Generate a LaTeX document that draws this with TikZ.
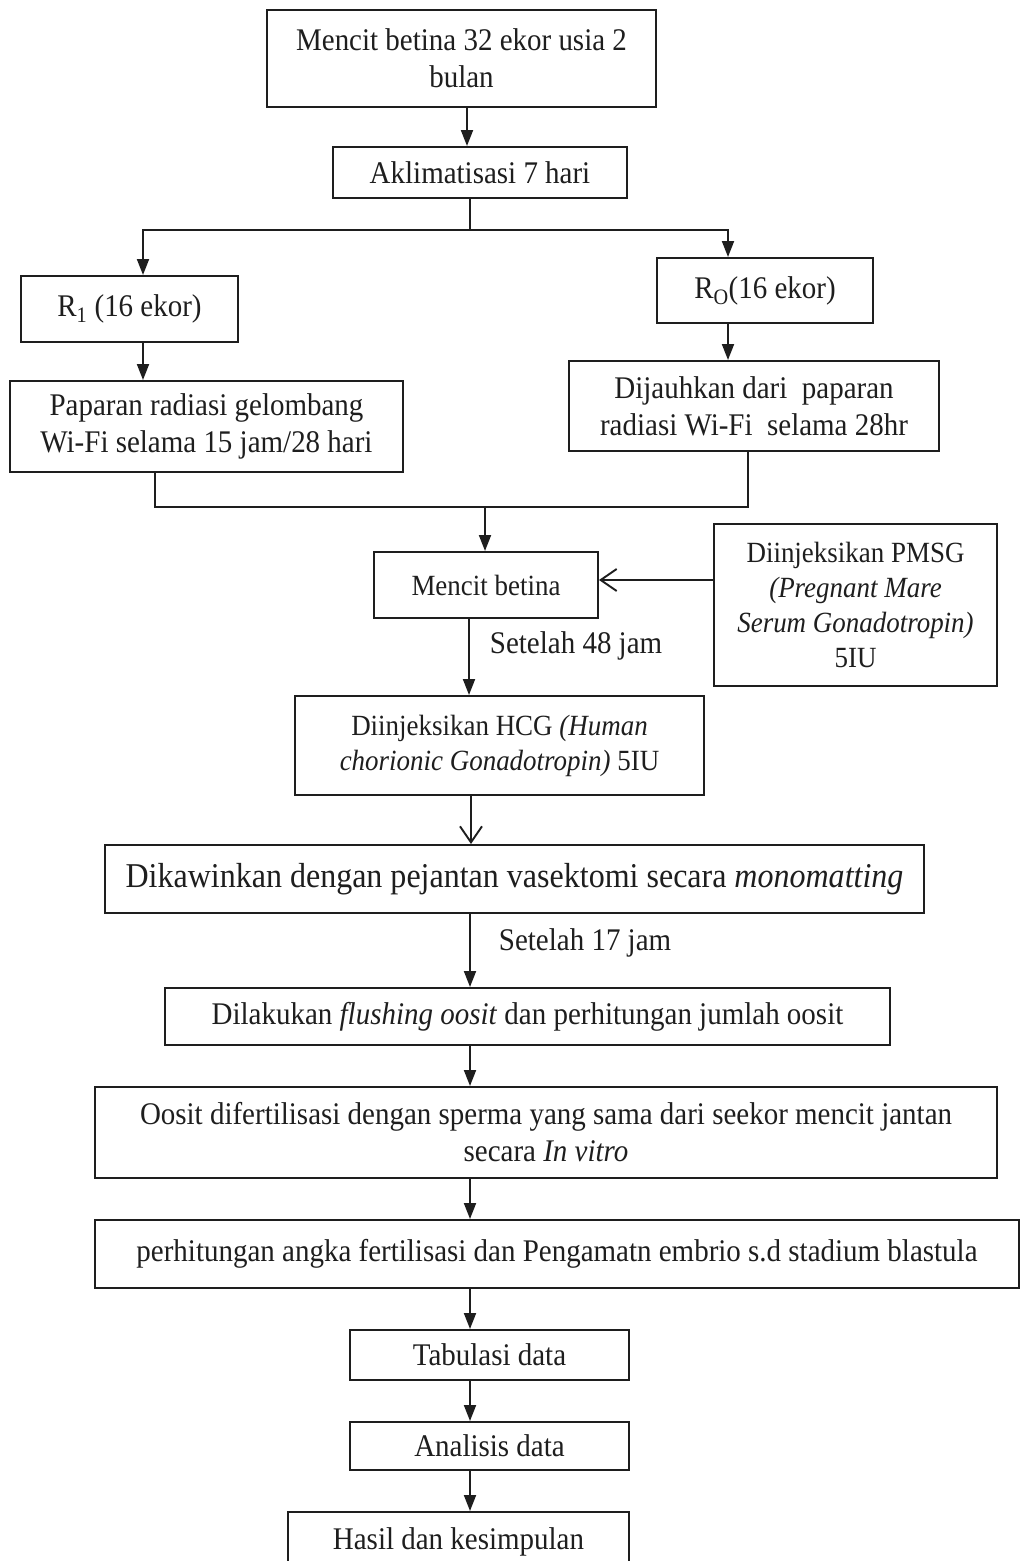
\documentclass[tikz,border=0pt]{standalone}
\usepackage{fontspec}
\setmainfont{Liberation Serif}[FakeStretch=0.92]
\usetikzlibrary{arrows.meta}
\definecolor{ink}{HTML}{1E1E1E}
\begin{document}
\begin{tikzpicture}[x=1pt,y=-1pt,
  box/.style={draw=ink, line width=2pt, align=center, inner sep=0pt, text=ink,
    font=\fontsize{31.5}{37}\selectfont},
  small/.style={font=\fontsize{29.3}{35}\selectfont},
  big/.style={font=\fontsize{34.8}{38}\selectfont},
  arr/.style={draw=ink, line width=1.9pt, -{Triangle[length=16pt,width=12pt]}},
  oarr/.style={draw=ink, line width=1.9pt, -{Straight Barb[length=16pt,width=22pt,line width=1.9pt]}},
  conn/.style={draw=ink, line width=1.9pt},
  lbl/.style={text=ink, font=\fontsize{31.5}{37}\selectfont, inner sep=0pt}]
\useasboundingbox[fill=white] (0,0) rectangle (1020,1561);

% nodes
\node[box, minimum width=389pt, minimum height=97pt] (top) at (461.5,58.5) {Mencit betina 32 ekor usia 2\\bulan};
\node[box, minimum width=294pt, minimum height=51pt] (akl) at (480,172.5) {Aklimatisasi 7 hari};
\node[box, minimum width=217pt, minimum height=66pt] (r1) at (129.5,309) {R\textsubscript{1} (16 ekor)};
\node[box, minimum width=216pt, minimum height=65pt] (r0) at (765,290.5) {R\textsubscript{O}(16 ekor)};
\node[box, minimum width=393pt, minimum height=91pt] (pap) at (206.5,426.5) {Paparan radiasi gelombang\\Wi-Fi selama 15 jam/28 hari};
\node[box, minimum width=370pt, minimum height=90pt] (dij) at (754,406) {Dijauhkan dari\ \ paparan\\radiasi Wi-Fi\ \ selama 28hr};
\node[box, small, minimum width=224pt, minimum height=66pt] (mb) at (486,585) {Mencit betina};
\node[box, small, minimum width=283pt, minimum height=162pt] (pmsg) at (855.5,605) {Diinjeksikan PMSG\\\textit{(Pregnant Mare}\\\textit{Serum Gonadotropin)}\\5IU};
\node[box, small, minimum width=409pt, minimum height=99pt] (hcg) at (499.5,745.5) {Diinjeksikan HCG \textit{(Human}\\\textit{chorionic Gonadotropin)} 5IU};
\node[box, big, minimum width=819pt, minimum height=68pt] (dik) at (514.5,879) {Dikawinkan dengan pejantan vasektomi secara \textit{monomatting}};
\node[box, minimum width=725pt, minimum height=57pt] (dil) at (527.5,1016.5) {Dilakukan \textit{flushing oosit} dan perhitungan jumlah oosit};
\node[box, minimum width=902pt, minimum height=91pt] (oos) at (546,1132.5) {Oosit difertilisasi dengan sperma yang sama dari seekor mencit jantan\\secara \textit{In vitro}};
\node[box, minimum width=924pt, minimum height=68pt] (per) at (557,1254) {perhitungan angka fertilisasi dan Pengamatn embrio s.d stadium blastula};
\node[box, minimum width=279pt, minimum height=50pt] (tab) at (489.5,1355) {Tabulasi data};
\node[box, minimum width=279pt, minimum height=48pt] (ana) at (489.5,1446) {Analisis data};
\node[box, minimum width=341pt, minimum height=60pt] (has) at (458.5,1542) {\raisebox{5pt}{Hasil dan kesimpulan}};

% coordinates
\coordinate (sp) at (470,230);
\coordinate (mg) at (485,507);

% connectors
\draw[arr] (top.south -| 467,0) -- (akl.north -| 467,0);
\draw[conn] (akl.south -| sp) -- (sp);
\draw[arr] (sp) -| (r1.north -| 143,0);
\draw[arr] (sp) -| (r0.north -| 728,0);
\draw[arr] (r1.south -| 143,0) -- (pap.north -| 143,0);
\draw[arr] (r0.south -| 728,0) -- (dij.north -| 728,0);
\draw[conn] (pap.south -| 155,0) |- (mg) -| (dij.south -| 748,0);
\draw[arr] (mg) -- (mb.north -| mg);
\draw[oarr] (pmsg.west |- 0,580) -- (mb.east |- 0,580);
\draw[arr] (mb.south -| 469,0) -- node[lbl, pos=0.35, anchor=west, xshift=20pt] (l48) {Setelah 48 jam} (hcg.north -| 469,0);
\draw[oarr] (hcg.south -| 471,0) -- (dik.north -| 471,0);
\draw[arr] (dik.south -| 470,0) -- node[lbl, pos=0.4, anchor=west, xshift=28pt] (l17) {Setelah 17 jam} (dil.north -| 470,0);
\draw[arr] (dil.south -| 470,0) -- (oos.north -| 470,0);
\draw[arr] (oos.south -| 470,0) -- (per.north -| 470,0);
\draw[arr] (per.south -| 470,0) -- (tab.north -| 470,0);
\draw[arr] (tab.south -| 470,0) -- (ana.north -| 470,0);
\draw[arr] (ana.south -| 470,0) -- (has.north -| 470,0);
\end{tikzpicture}
\end{document}
